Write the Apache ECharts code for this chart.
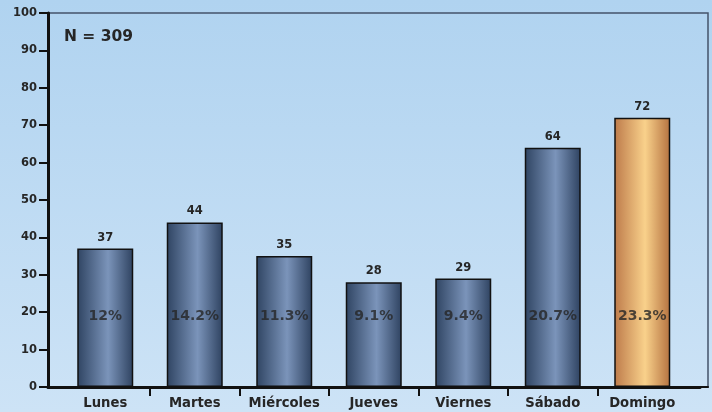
<!DOCTYPE html>
<html>
<head>
<meta charset="utf-8">
<script src="https://cdn.jsdelivr.net/npm/echarts@6/dist/echarts.min.js"></script>
<style>
html,body{margin:0;padding:0;}
#c{width:712px;height:412px;}
</style>
</head>
<body>
<div id="c"></div>
<script>
var categories = ['Lunes', 'Martes', 'Miércoles', 'Jueves', 'Viernes', 'Sábado', 'Domingo'];
var counts = [37, 44, 35, 28, 29, 64, 72];
var percents = [12, 14.2, 11.3, 9.1, 9.4, 20.7, 23.3];
var percentLevel = 20;
var yTicks = [0, 10, 20, 30, 40, 50, 60, 70, 80, 90, 100];
var highlightIndex = 6;
var totalN = 309;

var FONT = '"DejaVu Sans", Verdana, sans-serif';
var TXT = '#262626';

var blueGrad = new echarts.graphic.LinearGradient(0, 0, 1, 0, [
  {offset: 0, color: '#2f4462'},
  {offset: 0.55, color: '#7b94ba'},
  {offset: 1, color: '#2e4260'}
]);
var orangeGrad = new echarts.graphic.LinearGradient(0, 0, 1, 0, [
  {offset: 0, color: '#bd7a4a'},
  {offset: 0.55, color: '#f9d18b'},
  {offset: 1, color: '#b57240'}
]);

var barData = counts.map(function (v, i) {
  return {
    value: v,
    itemStyle: {color: i === highlightIndex ? orangeGrad : blueGrad}
  };
});
var pctData = percents.map(function (p) {
  return {value: percentLevel, pct: p};
});

var chart = echarts.init(document.getElementById('c'), null, {renderer: 'canvas'});
chart.setOption({
  animation: false,
  backgroundColor: new echarts.graphic.LinearGradient(0, 0, 0, 1, [
    {offset: 0, color: '#b0d3f0'},
    {offset: 1, color: '#cde3f6'}
  ]),
  title: {
    text: 'N = ' + totalN,
    left: 59, top: 24,
    textStyle: {fontFamily: FONT, fontWeight: 'bold', fontSize: 15.5, color: TXT}
  },
  grid: [
    {left: 48, right: 4, top: 13, bottom: 25, show: true, borderColor: '#44536a', borderWidth: 1.5, backgroundColor: 'transparent'},
    {left: 48, right: 12, top: 13, bottom: 25},
    {left: 60.5, right: 25, top: 13, bottom: 25},
    {left: 150, right: 114.3, top: 13, bottom: 25}
  ],
  xAxis: [
    {gridIndex: 0, type: 'value', position: 'top', min: 0, max: 1,
      axisLine: {show: true, lineStyle: {color: '#111', width: 2}},
      axisTick: {show: false}, axisLabel: {show: false}, splitLine: {show: false}},
    {gridIndex: 1, type: 'value', min: 0, max: 1,
      axisLine: {show: true, lineStyle: {color: '#111', width: 3}},
      axisTick: {show: false}, axisLabel: {show: false}, splitLine: {show: false}},
    {gridIndex: 2, type: 'category', data: categories,
      axisLine: {show: false}, axisTick: {show: false},
      axisLabel: {margin: 10, fontFamily: FONT, fontWeight: 'bold', fontSize: 13.2, color: TXT, interval: 0}},
    {gridIndex: 3, type: 'category', boundaryGap: false, data: categories.slice(1),
      axisLine: {show: false},
      axisTick: {show: true, length: 9, lineStyle: {color: '#111', width: 2}},
      axisLabel: {show: false}}
  ],
  yAxis: [
    {gridIndex: 0, type: 'value', min: 0, max: 100, interval: 10,
      axisLine: {show: true, lineStyle: {color: '#111', width: 3}},
      axisTick: {show: true, length: 9, lineStyle: {color: '#111', width: 2}},
      axisLabel: {margin: 11, fontFamily: FONT, fontWeight: 'bold', fontSize: 11.5, color: TXT,
        formatter: function (v) { return yTicks.indexOf(v) >= 0 ? String(v) : ''; }},
      splitLine: {show: false}},
    {gridIndex: 1, type: 'value', min: 0, max: 100, show: false},
    {gridIndex: 2, type: 'value', min: 0, max: 100, show: false},
    {gridIndex: 3, type: 'value', min: 0, max: 100, show: false}
  ],
  series: [
    {
      type: 'bar', xAxisIndex: 2, yAxisIndex: 2,
      data: barData, barWidth: 56,
      itemStyle: {borderColor: '#111', borderWidth: 1.5},
      label: {show: true, position: 'top', distance: 5, fontFamily: FONT, fontWeight: 'bold', fontSize: 11.5, color: TXT}
    },
    {
      type: 'scatter', xAxisIndex: 2, yAxisIndex: 2,
      data: pctData, symbolSize: 0, silent: true,
      label: {show: true, position: 'inside', offset: [0, 4], fontFamily: FONT, fontWeight: 'bold', fontSize: 14, color: TXT,
        formatter: function (p) { return p.data.pct + '%'; }}
    }
  ]
});
</script>
</body>
</html>
